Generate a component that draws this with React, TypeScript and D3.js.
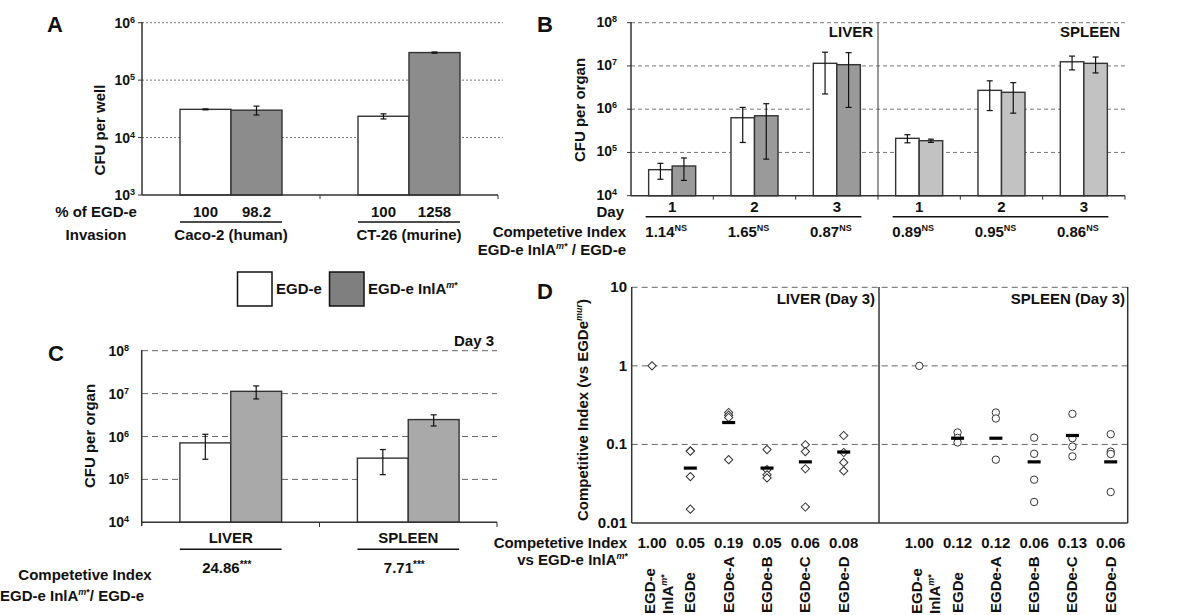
import React from 'react';
import * as d3 from 'd3';

const FONT = "'Liberation Sans', Arial, Helvetica, sans-serif";

// ---------- Panel A data ----------
const aCells = ['Caco-2 (human)', 'CT-26 (murine)'];
const strains = ['EGD-e', 'EGD-e InlAm*'];
const aWild = [31000, 23500];
const aWildSd = [600, 2400];
const aMut = [30000, 302000];
const aMutSd = [5300, 7000];
const aPercentWild = ['100', '100'];
const aPercentMut = ['98.2', '1258'];
const aTickExp = [3, 4, 5, 6];

// ---------- Panel B data ----------
const bGroups = ['L1', 'L2', 'L3', 'S1', 'S2', 'S3'];
const bDays = ['1', '2', '3', '1', '2', '3'];
const bOrgan = ['liver', 'liver', 'liver', 'spleen', 'spleen', 'spleen'];
const bWild = [40000, 635000, 11500000, 212000, 2730000, 12500000];
const bWildSd = [16000, 465000, 9250000, 45000, 1800000, 4400000];
const bMut = [48600, 705000, 10700000, 187000, 2460000, 11500000];
const bMutSd = [26000, 635000, 9600000, 16000, 1650000, 4600000];
const bCI = ['1.14', '1.65', '0.87', '0.89', '0.95', '0.86'];
const bTickExp = [4, 5, 6, 7, 8];

// ---------- Panel C data ----------
const cOrgans = ['LIVER', 'SPLEEN'];
const cWild = [710000, 313000];
const cWildSd = [415000, 184000];
const cMut = [11300000, 2480000];
const cMutSd = [3800000, 720000];
const cCI = ['24.86', '7.71'];
const cTickExp = [4, 5, 6, 7, 8];

// ---------- Panel D data ----------
const dStrains = ['EGD-e InlAm*', 'EGDe', 'EGDe-A', 'EGDe-B', 'EGDe-C', 'EGDe-D'];
const dLiverPoints = [
  [1.0],
  [0.083, 0.082, 0.039, 0.015],
  [0.255, 0.236, 0.22, 0.064],
  [0.086, 0.0477, 0.041, 0.0375],
  [0.099, 0.081, 0.049, 0.016],
  [0.13, 0.079, 0.059, 0.046],
];
const dLiverCI = [1.0, 0.05, 0.19, 0.05, 0.06, 0.08];
const dSpleenPoints = [
  [1.0],
  [0.142, 0.121, 0.106],
  [0.255, 0.214, 0.064],
  [0.122, 0.076, 0.0356, 0.0185],
  [0.245, 0.12, 0.094, 0.0705],
  [0.135, 0.081, 0.0755, 0.0248],
];
const dSpleenCI = [1.0, 0.12, 0.12, 0.06, 0.13, 0.06];
const dTicks = [0.01, 0.1, 1, 10];

const INK = '#111';
const AXIS = '#333';

function ErrBar({ x, y1, y2 }: { x: number; y1: number; y2: number }) {
  return (
    <g stroke={INK} strokeWidth={1.2}>
      <line x1={x} x2={x} y1={y1} y2={y2} />
      <line x1={x - 3} x2={x + 3} y1={y1} y2={y1} />
      <line x1={x - 3} x2={x + 3} y1={y2} y2={y2} />
    </g>
  );
}

function Pow({ x, y, exp, size = 13 }: { x: number; y: number; exp: number; size?: number }) {
  return (
    <text x={x} y={y} textAnchor="end" fontSize={size} fontWeight="bold" fill={INK}>
      10<tspan fontSize={9} dy={-5}>{exp}</tspan>
    </text>
  );
}

function Bars({
  cats, x, sub, y, wild, wildSd, mut, mutSd, base, mutColor,
}: any) {
  return (
    <g>
      {cats.map((c: string, i: number) => {
        const x0 = x(c);
        const bw = sub.bandwidth();
        const vals = [wild[i], mut[i]];
        const sds = [wildSd[i], mutSd[i]];
        return (
          <g key={c}>
            {strains.map((s, j) => {
              const bx = x0 + sub(s);
              const v = vals[j];
              return (
                <g key={s}>
                  <rect x={bx} y={y(v)} width={bw} height={y(base) - y(v)}
                    fill={j === 0 ? '#fff' : mutColor(i)} stroke={AXIS} strokeWidth={1.4} />
                  <ErrBar x={bx + bw / 2} y1={y(v + sds[j])} y2={y(Math.max(v - sds[j], base * 1.01))} />
                </g>
              );
            })}
          </g>
        );
      })}
    </g>
  );
}

function PanelA() {
  const x = d3.scaleBand<string>().domain(aCells).range([142, 498]);
  const sub = d3.scaleBand<string>().domain(strains).range([0, x.bandwidth()]).paddingInner(0).paddingOuter(0.745);
  const y = d3.scaleLog().domain([1e3, 1e6]).range([195, 22.7]);
  return (
    <g>
      <text x={47} y={32} fontSize={22} fontWeight="bold" fill={INK}>A</text>
      {aTickExp.slice(1).map((e) => (
        <line key={e} x1={142} x2={503} y1={y(10 ** e)} y2={y(10 ** e)} stroke="#777" strokeWidth={1} strokeDasharray="2,2" />
      ))}
      <Bars cats={aCells} x={x} sub={sub} y={y} wild={aWild} wildSd={aWildSd} mut={aMut} mutSd={aMutSd} base={1e3} mutColor={() => '#8c8c8c'} />
      <line x1={142} x2={142} y1={22} y2={195} stroke={AXIS} strokeWidth={1.5} />
      <line x1={142} x2={498} y1={195} y2={195} stroke={AXIS} strokeWidth={1.5} />
      {aTickExp.map((e) => (
        <g key={e}>
          <line x1={138} x2={142} y1={y(10 ** e)} y2={y(10 ** e)} stroke={AXIS} />
          <Pow x={135} y={y(10 ** e) + 5} exp={e} size={14} />
        </g>
      ))}
      {[x(aCells[1])!, 498].map((t) => (
        <line key={t} x1={t} x2={t} y1={195} y2={199} stroke={AXIS} />
      ))}
      <text transform={`translate(105,130) rotate(-90)`} textAnchor="middle" fontSize={15} fontWeight="bold" fill={INK}>CFU per well</text>
      <text x={96} y={217} textAnchor="middle" fontSize={15} fontWeight="bold" fill={INK}>% of EGD-e</text>
      <text x={96} y={240} textAnchor="middle" fontSize={15} fontWeight="bold" fill={INK}>Invasion</text>
      {aCells.map((c, i) => {
        const x0 = x(c)!;
        const bw = sub.bandwidth();
        const cx = x0 + x.bandwidth() / 2;
        return (
          <g key={c} fontSize={15} fontWeight="bold" fill={INK} textAnchor="middle">
            <text x={x0 + sub(strains[0])! + bw / 2} y={217}>{aPercentWild[i]}</text>
            <text x={x0 + sub(strains[1])! + bw / 2} y={217}>{aPercentMut[i]}</text>
            <line x1={x0 + sub(strains[0])!} x2={x0 + sub(strains[1])! + bw} y1={222} y2={222} stroke={INK} strokeWidth={1.5} />
            <text x={cx} y={240}>{c}</text>
          </g>
        );
      })}
    </g>
  );
}

function PanelB() {
  const x = d3.scaleBand<string>().domain(bGroups).range([631, 1125]);
  const sub = d3.scaleBand<string>().domain(strains).range([0, x.bandwidth()]).paddingInner(0).paddingOuter(0.75);
  const y = d3.scaleLog().domain([1e4, 1e8]).range([195.7, 22.7]);
  const bw = sub.bandwidth();
  const organs = ['liver', 'spleen'];
  return (
    <g>
      <text x={537} y={32} fontSize={22} fontWeight="bold" fill={INK}>B</text>
      {bTickExp.slice(1).map((e) => (
        <line key={e} x1={631} x2={1127} y1={y(10 ** e)} y2={y(10 ** e)} stroke="#777" strokeWidth={1} strokeDasharray="4,3" />
      ))}
      <Bars cats={bGroups} x={x} sub={sub} y={y} wild={bWild} wildSd={bWildSd} mut={bMut} mutSd={bMutSd} base={1e4}
        mutColor={(i: number) => (bOrgan[i] === 'liver' ? '#9a9a9a' : '#c2c2c2')} />
      <line x1={x(bGroups[3])!} x2={x(bGroups[3])!} y1={22} y2={195.7} stroke="#555" strokeWidth={1.2} />
      <line x1={631} x2={631} y1={22} y2={196} stroke={AXIS} strokeWidth={1.5} />
      <line x1={631} x2={1125} y1={195.7} y2={195.7} stroke={AXIS} strokeWidth={1.5} />
      {bTickExp.map((e) => (
        <g key={e}>
          <line x1={627} x2={631} y1={y(10 ** e)} y2={y(10 ** e)} stroke={AXIS} />
          <Pow x={617} y={y(10 ** e) + 4} exp={e} size={14} />
        </g>
      ))}
      {bGroups.map((g) => (
        <line key={g} x1={x(g)! + x.bandwidth()} x2={x(g)! + x.bandwidth()} y1={195.7} y2={199.7} stroke={AXIS} />
      ))}
      <text x={873} y={37} textAnchor="end" fontSize={15} fontWeight="bold" fill={INK}>LIVER</text>
      <text x={1120} y={37} textAnchor="end" fontSize={15} fontWeight="bold" fill={INK}>SPLEEN</text>
      <text transform={`translate(585,110) rotate(-90)`} textAnchor="middle" fontSize={15} fontWeight="bold" fill={INK}>CFU per organ</text>
      <text x={624} y={217} textAnchor="end" fontSize={15} fontWeight="bold" fill={INK}>Day</text>
      <text x={626} y={237} textAnchor="end" fontSize={15} fontWeight="bold" fill={INK}>Competetive Index</text>
      <text x={626} y={255} textAnchor="end" fontSize={15} fontWeight="bold" fill={INK}>
        EGD-e InlA<tspan fontSize={9} dy={-6} fontStyle="italic">m</tspan><tspan fontSize={9}>*</tspan><tspan dy={6}> / EGD-e</tspan>
      </text>
      {bGroups.map((g, i) => {
        const cx = x(g)! + x.bandwidth() / 2;
        return (
          <g key={g} fontSize={15} fontWeight="bold" fill={INK}>
            <text x={cx} y={212} textAnchor="middle">{bDays[i]}</text>
            <text x={cx - 6} y={237} textAnchor="middle">
              {bCI[i]}<tspan fontSize={9} dy={-6}>NS</tspan>
            </text>
          </g>
        );
      })}
      {organs.map((o) => {
        const idx = bGroups.filter((_, i) => bOrgan[i] === o);
        const x1 = x(idx[0])! + sub(strains[0])!;
        const x2 = x(idx[idx.length - 1])! + sub(strains[1])! + bw;
        return <line key={o} x1={x1 - 3} x2={x2 + 1} y1={216.7} y2={216.7} stroke={INK} strokeWidth={1.5} />;
      })}
    </g>
  );
}

function Legend() {
  return (
    <g fontSize={15} fontWeight="bold" fill={INK}>
      <rect x={237.5} y={272} width={34.5} height={34} fill="#fff" stroke={INK} strokeWidth={1.5} />
      <text x={276} y={294}>EGD-e</text>
      <rect x={329.5} y={272} width={34.5} height={34} fill="#7f7f7f" stroke={INK} strokeWidth={1.5} />
      <text x={368} y={294}>
        EGD-e InlA<tspan fontSize={9} dy={-6} fontStyle="italic">m</tspan><tspan fontSize={9}>*</tspan>
      </text>
    </g>
  );
}

function PanelC() {
  const x = d3.scaleBand<string>().domain(cOrgans).range([142, 497]);
  const sub = d3.scaleBand<string>().domain(strains).range([0, x.bandwidth()]).paddingInner(0).paddingOuter(0.745);
  const y = d3.scaleLog().domain([1e4, 1e8]).range([522.3, 350.7]);
  const bw = sub.bandwidth();
  return (
    <g>
      <text x={48} y={361} fontSize={22} fontWeight="bold" fill={INK}>C</text>
      <text x={494} y={346} textAnchor="end" fontSize={15} fontWeight="bold" fill={INK}>Day 3</text>
      {cTickExp.slice(1).map((e) => (
        <line key={e} x1={142} x2={497} y1={y(10 ** e)} y2={y(10 ** e)} stroke="#666" strokeWidth={1} strokeDasharray="6,4" />
      ))}
      <Bars cats={cOrgans} x={x} sub={sub} y={y} wild={cWild} wildSd={cWildSd} mut={cMut} mutSd={cMutSd} base={1e4} mutColor={() => '#a9a9a9'} />
      <line x1={141.7} x2={141.7} y1={350} y2={526} stroke={AXIS} strokeWidth={1.5} />
      <line x1={141.7} x2={497} y1={522.3} y2={522.3} stroke={AXIS} strokeWidth={1.5} />
      {cTickExp.map((e) => (
        <Pow key={e} x={129} y={y(10 ** e) + 5} exp={e} size={14} />
      ))}
      {[x(cOrgans[1])!, 497].map((t) => (
        <line key={t} x1={t} x2={t} y1={522.3} y2={527} stroke={AXIS} />
      ))}
      <text transform={`translate(95,436) rotate(-90)`} textAnchor="middle" fontSize={15} fontWeight="bold" fill={INK}>CFU per organ</text>
      {cOrgans.map((o, i) => {
        const x0 = x(o)!;
        const cx = x0 + x.bandwidth() / 2;
        return (
          <g key={o} fontSize={15} fontWeight="bold" fill={INK} textAnchor="middle">
            <text x={cx} y={543}>{o}</text>
            <line x1={x0 + sub(strains[0])!} x2={x0 + sub(strains[1])! + bw} y1={549.3} y2={549.3} stroke={INK} strokeWidth={1.5} />
            <text x={cx - 4} y={573}>
              {cCI[i]}<tspan fontSize={10} dy={-5}>***</tspan>
            </text>
          </g>
        );
      })}
      <text x={85} y={580} textAnchor="middle" fontSize={15} fontWeight="bold" fill={INK}>Competetive Index</text>
      <text x={72} y={601} textAnchor="middle" fontSize={15} fontWeight="bold" fill={INK}>
        EGD-e InlA<tspan fontSize={9} dy={-6} fontStyle="italic">m</tspan><tspan fontSize={9}>*</tspan><tspan dy={6}>/ EGD-e</tspan>
      </text>
    </g>
  );
}

function PanelD() {
  const y = d3.scaleLog().domain([0.01, 10]).range([523, 287.3]);
  const xL = d3.scalePoint<string>().domain(dStrains).range([652, 843.7]);
  const xS = d3.scalePoint<string>().domain(dStrains).range([919.3, 1110.7]);
  const diamond = d3.symbol().type(d3.symbolSquare).size(34)()!;
  const sections = [
    { x: xL, pts: dLiverPoints, ci: dLiverCI, shape: 'diamond' },
    { x: xS, pts: dSpleenPoints, ci: dSpleenCI, shape: 'circle' },
  ];
  return (
    <g>
      <text x={537} y={299} fontSize={22} fontWeight="bold" fill={INK}>D</text>
      {dTicks.slice(1).map((t) => (
        <line key={t} x1={631.7} x2={1127.7} y1={y(t)} y2={y(t)} stroke="#666" strokeWidth={1} strokeDasharray="6,4" />
      ))}
      <line x1={879} x2={879} y1={287} y2={523} stroke={AXIS} strokeWidth={1.5} />
      <line x1={1127.7} x2={1127.7} y1={287} y2={523} stroke={AXIS} strokeWidth={1.5} />
      <line x1={631.7} x2={631.7} y1={287} y2={523} stroke={AXIS} strokeWidth={1.5} />
      <line x1={631.7} x2={1127.7} y1={523} y2={523} stroke={AXIS} strokeWidth={1.5} />
      {dTicks.map((t) => (
        <text key={t} x={627} y={y(t) + 5} textAnchor="end" fontSize={15} fontWeight="bold" fill={INK}>{t}</text>
      ))}
      <text transform={`translate(588,410) rotate(-90)`} textAnchor="middle" fontSize={15} fontWeight="bold" fill={INK}>
        Competitive Index (vs EGDe<tspan fontSize={9} dy={-6} fontStyle="italic">mur</tspan><tspan dy={6}>)</tspan>
      </text>
      <text x={875} y={304} textAnchor="end" fontSize={15} fontWeight="bold" fill={INK}>LIVER (Day 3)</text>
      <text x={1125} y={304} textAnchor="end" fontSize={15} fontWeight="bold" fill={INK}>SPLEEN (Day 3)</text>
      <text x={627} y={548} textAnchor="end" fontSize={15} fontWeight="bold" fill={INK}>Competetive Index</text>
      <text x={628} y={565} textAnchor="end" fontSize={15} fontWeight="bold" fill={INK}>
        vs EGD-e InlA<tspan fontSize={9} dy={-6} fontStyle="italic">m</tspan><tspan fontSize={9}>*</tspan>
      </text>
      {sections.map((sec, si) => (
        <g key={si}>
          {dStrains.map((s, i) => {
            const cx = sec.x(s)!;
            return (
              <g key={s}>
                {sec.pts[i].map((v, k) =>
                  sec.shape === 'diamond' ? (
                    <path key={k} d={diamond} transform={`translate(${cx},${y(v)}) rotate(45)`} fill="#fff" stroke={AXIS} strokeWidth={1} />
                  ) : (
                    <circle key={k} cx={cx} cy={y(v)} r={3.7} fill="#fff" stroke={AXIS} strokeWidth={1} />
                  )
                )}
                {i > 0 && (
                  <rect x={cx - 6.5} y={y(sec.ci[i]) - 1.6} width={13} height={3.2} fill="#000" />
                )}
                <text x={cx} y={548} textAnchor="middle" fontSize={15} fontWeight="bold" fill={INK}>{sec.ci[i].toFixed(2)}</text>
                {i === 0 ? (
                  <g fontSize={15} fontWeight="bold" fill={INK}>
                    <text transform={`translate(${cx + 3},614) rotate(-90)`}>EGD-e</text>
                    <text transform={`translate(${cx + 21},614) rotate(-90)`}>
                      InlA<tspan fontSize={9} dy={-6} fontStyle="italic">m</tspan><tspan fontSize={9}>*</tspan>
                    </text>
                  </g>
                ) : (
                  <text transform={`translate(${cx + 5},613) rotate(-90)`} fontSize={15} fontWeight="bold" fill={INK}>{s}</text>
                )}
              </g>
            );
          })}
        </g>
      ))}
    </g>
  );
}

export default function App() {
  return (
    <svg width={1200} height={615} style={{ position: 'absolute', left: 0, top: 0, background: '#fff' }} fontFamily={FONT}>
      <rect x={0} y={0} width={1200} height={615} fill="#fff" />
      <PanelA />
      <PanelB />
      <Legend />
      <PanelC />
      <PanelD />
    </svg>
  );
}
